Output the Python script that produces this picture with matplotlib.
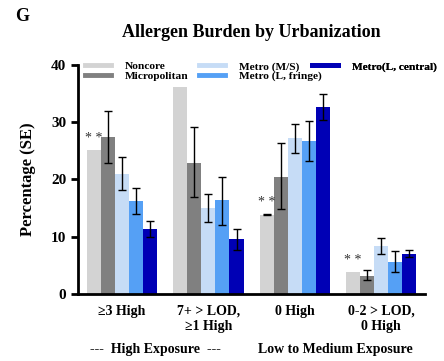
import numpy as np
import matplotlib.pyplot as plt
from matplotlib.lines import Line2D

plt.rcParams['font.family'] = ['Liberation Serif', 'DejaVu Serif']
plt.rcParams['font.weight'] = 'bold'

groups = ['\u22653 High', '7+ > LOD,\n\u22651 High', '0 High', '0-2 > LOD,\n0 High']
series = ['Noncore', 'Micropolitan', 'Metro (M/S)', 'Metro (L, fringe)', 'Metro(L, central)']
colors = ['#d3d3d3', '#808080', '#c6dcf6', '#55a0f5', '#0000b5']

noncore = [25.1, 36.2, 13.8, 3.8]
micro = [27.4, 22.9, 20.4, 3.2]
metro_ms = [21.0, 15.0, 27.2, 8.3]
fringe = [16.2, 16.4, 26.7, 5.6]
central = [11.4, 9.5, 32.7, 7.0]

# error bar low / high ends (nan = no bar)
noncore_lo = [np.nan, np.nan, 13.7, np.nan]
noncore_hi = [np.nan, np.nan, 13.9, np.nan]
micro_lo = [22.8, 16.9, 14.8, 2.4]
micro_hi = [32.0, 29.2, 26.3, 4.1]
ms_lo = [18.1, 12.6, 24.7, 7.0]
ms_hi = [24.0, 17.5, 29.7, 9.7]
fringe_lo = [13.9, 12.1, 23.3, 3.8]
fringe_hi = [18.5, 20.5, 30.2, 7.5]
central_lo = [9.9, 7.7, 30.4, 6.5]
central_hi = [12.8, 11.3, 35.0, 7.6]

values = [noncore, micro, metro_ms, fringe, central]
lows = [noncore_lo, micro_lo, ms_lo, fringe_lo, central_lo]
highs = [noncore_hi, micro_hi, ms_hi, fringe_hi, central_hi]

fig = plt.figure(figsize=(4.44, 3.61), dpi=100)
ax = fig.add_axes([0.176, 0.186, 0.781, 0.634])

x = np.arange(len(groups))
w = 0.163
for i in range(5):
    pos = x + (i - 2) * w
    v = np.array(values[i])
    lo = np.array(lows[i])
    hi = np.array(highs[i])
    ax.bar(pos, v, width=w, color=colors[i], label=series[i])
    ok = ~np.isnan(lo)
    ax.errorbar(pos[ok], v[ok], yerr=[v[ok] - lo[ok], hi[ok] - v[ok]],
                fmt='none', ecolor='black', elinewidth=1, capsize=3, capthick=1)

# significance marks above noncore bars
for gi, yy in [(0, 26.0), (2, 14.9), (3, 4.7)]:
    ax.text(x[gi] - 2 * w, yy, '* *', ha='center', va='bottom', fontsize=10,
            color='#333333', fontweight='normal')

ax.set_xlim(-0.51, 3.51)
ax.set_ylim(0, 40)
ax.set_yticks([0, 10, 20, 30, 40])
ax.set_xticks(x)
ax.set_xticklabels(groups, fontsize=10, fontweight='bold')
ax.tick_params(axis='x', length=0, pad=8)
ax.tick_params(axis='y', labelsize=11, width=2, length=5)
for lab in ax.get_yticklabels():
    lab.set_fontweight('bold')
for s in ['top', 'right']:
    ax.spines[s].set_visible(False)
for s in ['left', 'bottom']:
    ax.spines[s].set_linewidth(2)
ax.set_ylabel('Percentage (SE)', fontsize=12, fontweight='bold', labelpad=11)

# legend in three loose columns
handles = [Line2D([0], [0], color=c, lw=3.5) for c in colors]
cols = [([0, 1], 0.02), ([2, 3], 0.349), ([4], 0.675)]
for idx, xa in cols:
    leg = ax.legend([handles[k] for k in idx], [series[k] for k in idx],
                    loc='upper left', bbox_to_anchor=(xa, 1.016), frameon=False,
                    handlelength=2.3, handletextpad=1.2, labelspacing=-0.05,
                    borderaxespad=0, borderpad=0,
                    prop={'weight': 'bold', 'size': 8.2})
    ax.add_artist(leg)

fig.text(0.035, 0.955, 'G', fontsize=13, fontweight='bold', va='center')
fig.text(0.565, 0.91, 'Allergen Burden by Urbanization', fontsize=13,
         fontweight='bold', ha='center', va='center')
fig.text(0.35, 0.032, '---  High Exposure  ---', fontsize=10, fontweight='bold',
         ha='center', va='center')
fig.text(0.755, 0.032, 'Low to Medium Exposure', fontsize=10, fontweight='bold',
         ha='center', va='center')

fig.savefig('out.png', dpi=100)
